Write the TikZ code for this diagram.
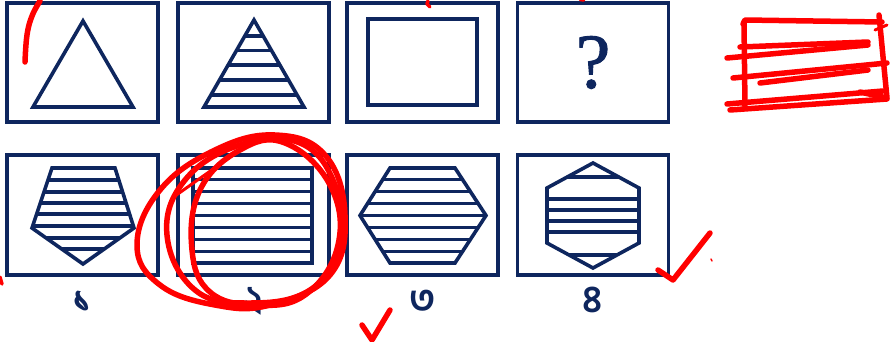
\documentclass[tikz,border=0pt]{standalone}
\usepackage{fontspec}
\newfontfamily\bnfont[Script=Bengali]{Hind Siliguri}
\newfontfamily\qfont[FakeBold=1.2]{Liberation Serif}
\usetikzlibrary{positioning}
\definecolor{navy}{RGB}{14,38,94}

\begin{document}
\begin{tikzpicture}[
    x=1pt, y=-1pt,
    frame/.style={rectangle, draw=navy, line width=3.6pt, minimum width=151pt, minimum height=119pt, inner sep=0pt},
    figline/.style={draw=navy, line width=3.6pt, line join=miter},
    stripe/.style={draw=navy, line width=3.2pt},
    numlabel/.style={font=\bnfont\bfseries\fontsize{38}{38}\selectfont, text=navy, inner sep=0pt},
    pen/.style={draw=red, line width=5.5pt, line cap=round, line join=round}
]
\useasboundingbox (0,0) rectangle (892,341);

% 1. Question row
\foreach \i/\x in {1/82.5, 2/253.5, 3/422.5, 4/593}
    \node[frame] (q\i) at (\x,62.5) {};
\node[font=\qfont\fontsize{78}{78}\selectfont, text=navy, inner sep=0pt] (qmark) at (q4) {?};

% plain triangle
\draw[figline] (83,21) -- (133,107) -- (33,107) -- cycle;
% striped triangle
\begin{scope}
    \clip (254,20) -- (304,107) -- (204,107) -- cycle;
    \foreach \y in {36, 50.5, 65, 80, 95}
        \draw[stripe] (200,\y) -- (310,\y);
\end{scope}
\draw[figline] (254,20) -- (304,107) -- (204,107) -- cycle;
% plain square
\draw[figline] (368,19) rectangle (477,105);

% 2. Answer row
\foreach \i/\x in {1/82.5, 2/253.5, 3/422.5, 4/593}
    \node[frame, minimum height=120pt] (a\i) at (\x,215) {};

% pentagon
\begin{scope}
    \clip (52,168) -- (115,168) -- (134,228) -- (83,264) -- (32,228) -- cycle;
    \foreach \y in {180, 192, 203, 214, 226, 238, 249}
        \draw[stripe] (25,\y) -- (140,\y);
\end{scope}
\draw[figline] (52,168) -- (115,168) -- (134,228) -- (83,264) -- (32,228) -- cycle;
% striped rectangle
\foreach \k in {1,...,7}
    \draw[stripe] (193,168+\k*11.875) -- (312,168+\k*11.875);
\draw[figline] (193,168) rectangle (312,263);
% flat hexagon
\begin{scope}
    \clip (390,168) -- (455,168) -- (486,215.5) -- (455,263) -- (390,263) -- (360,215.5) -- cycle;
    \foreach \k in {1,...,7}
        \draw[stripe] (355,168+\k*11.875) -- (490,168+\k*11.875);
\end{scope}
\draw[figline] (390,168) -- (455,168) -- (486,215.5) -- (455,263) -- (390,263) -- (360,215.5) -- cycle;
% pointed hexagon
\begin{scope}
    \clip (593,163) -- (639,188) -- (639,243) -- (593,268) -- (547,243) -- (547,188) -- cycle;
    \foreach \y in {177, 199, 210, 221, 232, 255}
        \draw[stripe] (540,\y) -- (645,\y);
\end{scope}
\draw[figline] (593,163) -- (639,188) -- (639,243) -- (593,268) -- (547,243) -- (547,188) -- cycle;

% 3. Numbers
\node[numlabel, below=36pt of a1, anchor=base] (n1) {১};
\node[numlabel, below=36pt of a2, anchor=base] (n2) {২};
\node[numlabel, below=36pt of a3, anchor=base] (n3) {৩};
\node[numlabel, below=36pt of a4, anchor=base] (n4) {৪};

% 4. Pen marks
\draw[pen] plot[smooth, tension=0.7] coordinates {(25,62) (27,35) (32,16) (40,1)};
\draw[pen, line width=3.5pt] (428,1) -- (427,4) -- (430,7);
\draw[pen, line width=2.5pt] (580,0) -- (584,0.5);
\draw[pen, line width=3.5pt] (0,277) -- (2,284);
% loops round answer 2
\draw[pen] plot[smooth cycle, tension=0.7] coordinates {(137,245) (160,190) (215,150) (275,135) (325,155) (345,215) (330,275) (270,305) (215,305) (160,285)};
\draw[pen] plot[smooth cycle, tension=0.7] coordinates {(167,235) (185,180) (240,145) (300,143) (335,185) (340,245) (310,290) (250,303) (195,290)};
\draw[pen] plot[smooth cycle, tension=0.7] coordinates {(192,250) (200,190) (240,150) (285,143) (330,185) (338,245) (305,295) (255,305) (210,292)};
\draw[pen, line width=3pt] (175,196) -- (240,150);
% ticks
\draw[pen] (362,325) -- (372,340) -- (390,310);
\draw[pen] (658,270) -- (673,280) -- (710,233);
\draw[pen, line width=1.5pt] (711,259) -- (712,261);
% scribble
\draw[pen] (743,24) -- (745,20) -- (882,22);
\draw[pen] (744,22) -- (745,107);
\draw[pen] (879,15) -- (887,98) -- (860,92);
\draw[pen, line width=3pt] (875,30) -- (887,25);
\draw[pen] (740,47) -- (868,42);
\draw[pen] (727,58) -- (868,45);
\draw[pen] (733,78) -- (887,63);
\draw[pen] (760,83) -- (868,70);
\draw[pen] (727,104) -- (883,91);
\draw[pen] (730,110) -- (887,99);
\end{tikzpicture}
\end{document}
